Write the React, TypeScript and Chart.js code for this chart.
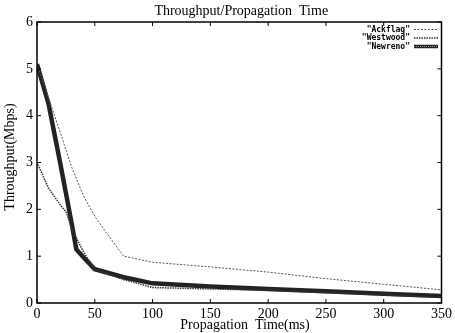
import React, { useEffect, useRef } from "react";
import { Chart, registerables } from "chart.js";

Chart.register(...registerables);

const ackflagX = [0, 10, 20, 30, 40, 50, 60, 75, 100, 150, 200, 250, 300, 350];
const ackflag = [5.1, 4.38, 3.65, 2.9, 2.3, 1.85, 1.5, 1.0, 0.87, 0.77, 0.66, 0.52, 0.4, 0.28];
const westwoodX = [0, 10, 20, 25, 30, 40, 50, 75, 100, 150, 200, 250, 300, 350];
const westwood = [3.0, 2.45, 2.1, 1.95, 1.6, 1.1, 0.72, 0.5, 0.33, 0.3, 0.27, 0.22, 0.17, 0.12];
const newrenoX = [0, 10, 20, 30, 34, 40, 50, 75, 100, 150, 200, 250, 300, 350];
const newreno = [5.1, 4.25, 3.0, 1.7, 1.15, 0.98, 0.72, 0.55, 0.42, 0.35, 0.3, 0.25, 0.2, 0.15];
const xTicks = [0, 50, 100, 150, 200, 250, 300, 350];
const yTicks = [0, 1, 2, 3, 4, 5, 6];
const seriesNames = ['"Ackflag"', '"Westwood"', '"Newreno"'];
const chartTitle = "Throughput/Propagation  Time";
const xTitle = "Propagation  Time(ms)";
const yTitle = "Throughput(Mbps)";

const SERIF = "'Liberation Serif', 'DejaVu Serif', serif";

const pts = (xs: number[], ys: number[]) => xs.map((x, i) => ({ x, y: ys[i] }));

const framePlugin = {
  id: "frame",
  afterDatasetsDraw(chart: any) {
    const { ctx, chartArea } = chart;
    const { left, right, top, bottom } = chartArea;
    const xs = chart.scales.x;
    const ys = chart.scales.y;
    ctx.save();
    ctx.strokeStyle = "#000";
    ctx.lineWidth = 1.5;
    ctx.strokeRect(left, top, right - left, bottom - top);
    ctx.lineWidth = 1;
    ctx.beginPath();
    xTicks.forEach((v) => {
      const px = xs.getPixelForValue(v);
      ctx.moveTo(px, bottom);
      ctx.lineTo(px, bottom - 4);
      ctx.moveTo(px, top);
      ctx.lineTo(px, top + 4);
    });
    yTicks.forEach((v) => {
      const py = ys.getPixelForValue(v);
      ctx.moveTo(left, py);
      ctx.lineTo(left + 4, py);
      ctx.moveTo(right, py);
      ctx.lineTo(right - 4, py);
    });
    ctx.stroke();

    // title
    ctx.fillStyle = "#000";
    ctx.font = `14px ${SERIF}`;
    ctx.textAlign = "center";
    ctx.textBaseline = "middle";
    ctx.fillText(chartTitle, (left + right) / 2 + 2, 11);

    // y axis title
    ctx.save();
    ctx.translate(10, 157);
    ctx.rotate(-Math.PI / 2);
    ctx.fillText(yTitle, 0, 0);
    ctx.restore();

    // x axis title
    ctx.fillText(xTitle, 245, 325);

    // legend
    ctx.font = "bold 8px 'DejaVu Sans Mono', monospace";
    ctx.textAlign = "right";
    const styles = [
      { w: 1, dash: [2, 1.5], color: "#555" },
      { w: 1.5, dash: [1.5, 1], color: "#333" },
      { w: 3.5, dash: [], color: "#222" },
    ];
    seriesNames.forEach((name, i) => {
      const y = 29.5 + i * 8.5;
      ctx.fillStyle = "#000";
      ctx.fillText(name, 410, y);
      const s = styles[i];
      ctx.strokeStyle = s.color;
      ctx.lineWidth = s.w;
      ctx.setLineDash(s.dash);
      ctx.beginPath();
      ctx.moveTo(414, y);
      ctx.lineTo(438, y);
      ctx.stroke();
      if (i === 2) {
        ctx.strokeStyle = "#999";
        ctx.lineWidth = 1;
        ctx.setLineDash([1, 1]);
        ctx.beginPath();
        ctx.moveTo(414, y);
        ctx.lineTo(438, y);
        ctx.stroke();
      }
      ctx.setLineDash([]);
    });
    ctx.restore();
  },
};

export default function App() {
  const ref = useRef<HTMLCanvasElement | null>(null);
  useEffect(() => {
    if (!ref.current) return;
    const chart = new Chart(ref.current, {
      type: "line",
      data: {
        datasets: [
          {
            label: seriesNames[0],
            data: pts(ackflagX, ackflag),
            borderColor: "#555",
            borderWidth: 1,
            borderDash: [2, 1.5],
            pointRadius: 0,
            tension: 0,
          },
          {
            label: seriesNames[1],
            data: pts(westwoodX, westwood),
            borderColor: "#333",
            borderWidth: 1.5,
            borderDash: [1.5, 1],
            pointRadius: 0,
            tension: 0,
          },
          {
            label: seriesNames[2],
            data: pts(newrenoX, newreno),
            borderColor: "#222",
            borderWidth: 4.5,
            pointRadius: 0,
            tension: 0,
          },
          {
            label: seriesNames[2] + " texture",
            data: pts(newrenoX, newreno),
            borderColor: "#8a8a8a",
            borderWidth: 1.2,
            borderDash: [1, 1.2],
            pointRadius: 0,
            tension: 0,
          },
        ],
      },
      options: {
        animation: false,
        responsive: false,
        maintainAspectRatio: false,
        layout: { padding: { top: 22, right: 6, left: 0, bottom: 0 } },
        plugins: { legend: { display: false }, title: { display: false }, tooltip: { enabled: false } },
        scales: {
          x: {
            type: "linear",
            min: 0,
            max: 350,
            grid: { display: false, drawTicks: false },
            border: { display: false },
            afterBuildTicks: (s: any) => {
              s.ticks = xTicks.map((v) => ({ value: v }));
            },
            afterFit: (s: any) => {
              s.height = 30;
            },
            ticks: { color: "#000", font: { family: SERIF, size: 14 }, padding: 3, maxRotation: 0 },
          },
          y: {
            min: 0,
            max: 6,
            grid: { display: false, drawTicks: false },
            border: { display: false },
            afterBuildTicks: (s: any) => {
              s.ticks = yTicks.map((v) => ({ value: v }));
            },
            afterFit: (s: any) => {
              s.width = 37;
            },
            ticks: { color: "#000", font: { family: SERIF, size: 14 }, padding: 4 },
          },
        },
      },
      plugins: [framePlugin],
    });
    return () => chart.destroy();
  }, []);
  return (
    <div style={{ position: "fixed", left: 0, top: 0, width: 455, height: 333, background: "#fff" }}>
      <canvas ref={ref} width={455} height={333} style={{ display: "block" }} />
    </div>
  );
}
